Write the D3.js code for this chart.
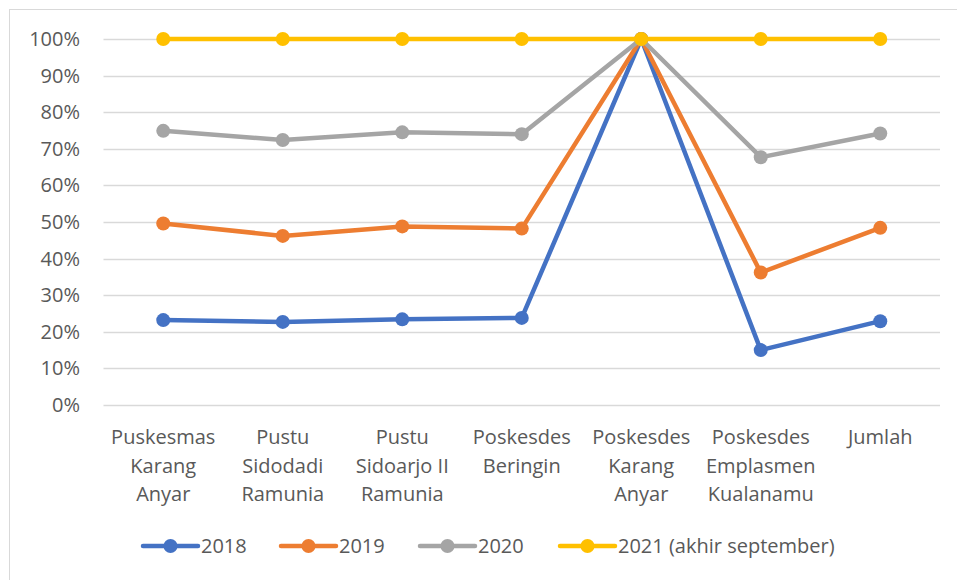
<!DOCTYPE html>
<html>
<head>
<meta charset="utf-8">
<script src="https://cdn.jsdelivr.net/npm/d3@7"></script>
<style>
  body { margin: 0; background: #fff; }
  text { font-family: "Open Sans", sans-serif; fill: #595959; }
</style>
</head>
<body>
<div id="chart"></div>
<script>
const categories = [
  "Puskesmas Karang Anyar",
  "Pustu Sidodadi Ramunia",
  "Pustu Sidoarjo II Ramunia",
  "Poskesdes Beringin",
  "Poskesdes Karang Anyar",
  "Poskesdes Emplasmen Kualanamu",
  "Jumlah"
];
const labelLines = [
  ["Puskesmas", "Karang", "Anyar"],
  ["Pustu", "Sidodadi", "Ramunia"],
  ["Pustu", "Sidoarjo II", "Ramunia"],
  ["Poskesdes", "Beringin"],
  ["Poskesdes", "Karang", "Anyar"],
  ["Poskesdes", "Emplasmen", "Kualanamu"],
  ["Jumlah"]
];
const seriesNames = ["2018", "2019", "2020", "2021 (akhir september)"];
const values2018 = [0.232, 0.227, 0.234, 0.238, 1.0, 0.150, 0.229];
const values2019 = [0.496, 0.462, 0.488, 0.482, 1.0, 0.362, 0.484];
const values2020 = [0.749, 0.724, 0.745, 0.740, 1.0, 0.677, 0.742];
const values2021 = [1.0, 1.0, 1.0, 1.0, 1.0, 1.0, 1.0];
const yTicks = [0, 0.1, 0.2, 0.3, 0.4, 0.5, 0.6, 0.7, 0.8, 0.9, 1.0];

const colors = ["#4472C4", "#ED7D31", "#A5A5A5", "#FFC000"];
const allSeries = [values2018, values2019, values2020, values2021];

const width = 957, height = 580;
const fontSize = "20px";
const svg = d3.select("#chart").append("svg")
  .attr("width", width).attr("height", height);

// chart frame
svg.append("rect")
  .attr("x", 9.5).attr("y", 9.5)
  .attr("width", 960).attr("height", 600)
  .attr("fill", "none").attr("stroke", "#d9d9d9");

const x = d3.scaleBand().domain(categories).range([103.5, 940]);
const y = d3.scaleLinear().domain([0, 1]).range([405, 39]);

// gridlines
svg.append("g")
  .selectAll("line")
  .data(yTicks)
  .join("line")
  .attr("x1", 103.5).attr("x2", 940)
  .attr("y1", d => Math.round(y(d)) + 0.5)
  .attr("y2", d => Math.round(y(d)) + 0.5)
  .attr("stroke", "#d9d9d9")
  .attr("stroke-width", 1.3);

// y labels
svg.append("g")
  .selectAll("text")
  .data(yTicks)
  .join("text")
  .attr("x", 80)
  .attr("y", d => y(d))
  .attr("dy", "0.35em")
  .attr("text-anchor", "end")
  .style("font-size", fontSize)
  .text(d => d3.format(".0%")(d));

// x labels
const xl = svg.append("g")
  .selectAll("text")
  .data(categories)
  .join("text")
  .attr("x", d => x(d) + x.bandwidth() / 2)
  .attr("y", 444)
  .attr("text-anchor", "middle")
  .style("font-size", fontSize);
xl.selectAll("tspan")
  .data((d, i) => labelLines[i])
  .join("tspan")
  .attr("x", function () { return this.parentNode.getAttribute("x"); })
  .attr("dy", (d, i) => i === 0 ? 0 : 28.5)
  .text(d => d);

const line = d3.line()
  .x((d, i) => x(categories[i]) + x.bandwidth() / 2)
  .y(d => y(d));

allSeries.forEach((vals, s) => {
  const g = svg.append("g");
  g.append("path")
    .datum(vals)
    .attr("d", line)
    .attr("fill", "none")
    .attr("stroke", colors[s])
    .attr("stroke-width", 4.5)
    .attr("stroke-linejoin", "round");
  g.selectAll("circle")
    .data(vals)
    .join("circle")
    .attr("cx", (d, i) => x(categories[i]) + x.bandwidth() / 2)
    .attr("cy", d => y(d))
    .attr("r", 7)
    .attr("fill", colors[s]);
});

// legend
const legendX = [143, 281, 420, 560];
const legend = svg.append("g")
  .selectAll("g")
  .data(seriesNames)
  .join("g")
  .attr("transform", (d, i) => `translate(${legendX[i]},546)`);
legend.append("line")
  .attr("x1", 0).attr("x2", 55)
  .attr("stroke", (d, i) => colors[i])
  .attr("stroke-width", 4.5)
  .attr("stroke-linecap", "round");
legend.append("circle")
  .attr("cx", 27.5).attr("r", 7)
  .attr("fill", (d, i) => colors[i]);
legend.append("text")
  .attr("x", 58)
  .attr("dy", "0.35em")
  .style("font-size", fontSize)
  .text(d => d);
</script>
</body>
</html>
